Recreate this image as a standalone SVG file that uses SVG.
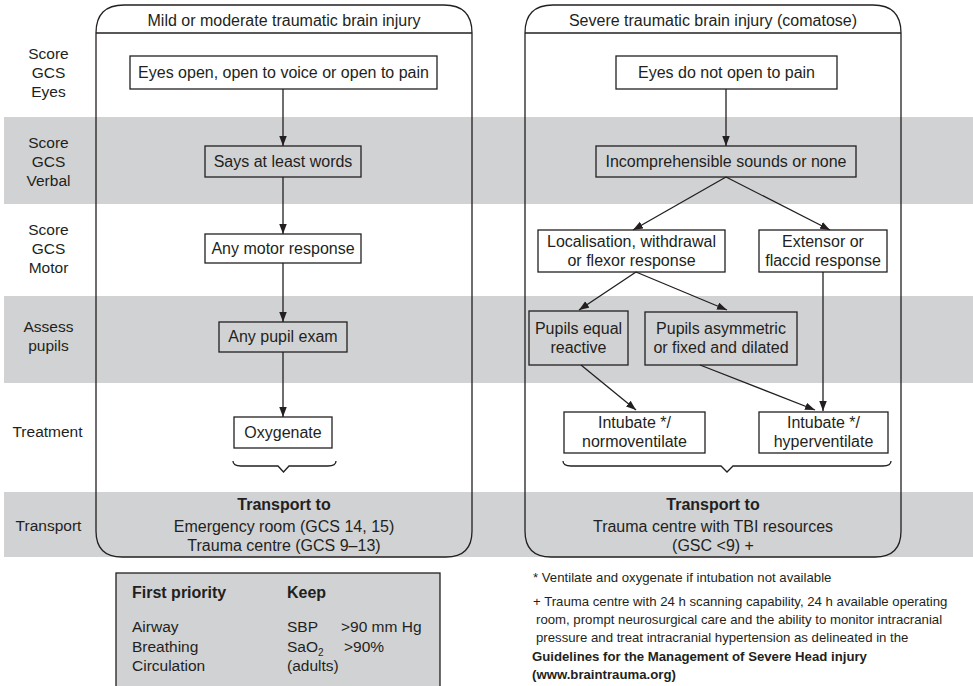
<svg xmlns="http://www.w3.org/2000/svg" width="973" height="686" viewBox="0 0 973 686">
<defs>
<style>
text{font-family:"Liberation Sans",Arial,sans-serif;font-size:16px;fill:#231f20}
.c{text-anchor:middle}
.b{font-weight:bold}
.lab{font-size:15.5px}
.pr{font-size:15.5px}
.fn{font-size:13.2px}
.band{fill:#d1d2d4}
.box{fill:#fff;stroke:#231f20;stroke-width:1.3}
.gbox{fill:#d1d2d4;stroke:#231f20;stroke-width:1.3}
.panel{fill:none;stroke:#231f20;stroke-width:1.3}
.conn{fill:none;stroke:#231f20;stroke-width:1.3}
</style>
<marker id="ah" markerUnits="userSpaceOnUse" markerWidth="11" markerHeight="8" refX="10" refY="3.75" orient="auto">
<path d="M0,0 L10,3.75 L0,7.5 z" fill="#231f20"/>
</marker>
</defs>
<rect width="973" height="686" fill="#fff"/>
<g id="bands">
<rect class="band" x="4" y="117" width="969" height="87"/>
<rect class="band" x="4" y="296" width="969" height="87"/>
<rect class="band" x="4" y="492" width="969" height="65"/>
</g>
<g id="row-labels">
<text class="c lab" x="48.5" y="59">Score</text>
<text class="c lab" x="48.5" y="78">GCS</text>
<text class="c lab" x="48.5" y="97">Eyes</text>
<text class="c lab" x="48.5" y="148">Score</text>
<text class="c lab" x="48.5" y="167">GCS</text>
<text class="c lab" x="48.5" y="186">Verbal</text>
<text class="c lab" x="48.5" y="235">Score</text>
<text class="c lab" x="48.5" y="254">GCS</text>
<text class="c lab" x="48.5" y="273">Motor</text>
<text class="c lab" x="48.5" y="332">Assess</text>
<text class="c lab" x="48.5" y="351">pupils</text>
<text class="c lab" x="47.5" y="437">Treatment</text>
<text class="c lab" x="48.5" y="531">Transport</text>
</g>
<g id="panel-mild">
<path class="panel" d="M96,33 Q96,5 124,5 L444,5 Q472,5 472,33 L472,531 Q472,557 446,557 L122,557 Q96,557 96,531 Z"/>
<line class="panel" x1="96" y1="33" x2="472" y2="33"/>
<text class="c" x="284" y="26">Mild or moderate traumatic brain injury</text>
<text class="c b" x="284" y="510">Transport to</text>
<text class="c" x="284" y="532">Emergency room (GCS 14, 15)</text>
<text class="c" x="284" y="551">Trauma centre (GCS 9–13)</text>
<path class="conn" d="M233,461 Q233,466 241,466 L278,466 L283.5,472 L289,466 L328,466 Q336,466 336,461"/>
</g>
<g id="panel-severe">
<path class="panel" d="M525,33 Q525,5 553,5 L873,5 Q901,5 901,33 L901,531 Q901,557 875,557 L551,557 Q525,557 525,531 Z"/>
<line class="panel" x1="525" y1="33" x2="901" y2="33"/>
<text class="c" x="713" y="26">Severe traumatic brain injury (comatose)</text>
<text class="c b" x="713" y="510">Transport to</text>
<text class="c" x="713" y="532">Trauma centre with TBI resources</text>
<text class="c" x="713" y="551">(GSC &lt;9) +</text>
<path class="conn" d="M563,461 Q563,466 571,466 L721,466 L727,472 L733,466 L883,466 Q891,466 891,461"/>
</g>
<g id="n-eyes-open">
<rect class="box" x="130" y="56" width="307" height="33"/>
<text class="c" x="283.5" y="78">Eyes open, open to voice or open to pain</text>
</g>
<g id="n-says-words">
<rect class="gbox" x="205" y="146" width="156" height="31"/>
<text class="c" x="283" y="167">Says at least words</text>
</g>
<g id="n-any-motor">
<rect class="box" x="205" y="234" width="156" height="29"/>
<text class="c" x="283" y="254">Any motor response</text>
</g>
<g id="n-any-pupil">
<rect class="gbox" x="219" y="322" width="128" height="30"/>
<text class="c" x="283" y="342">Any pupil exam</text>
</g>
<g id="n-oxygenate">
<rect class="box" x="234" y="417" width="98" height="31"/>
<text class="c" x="283" y="438">Oxygenate</text>
</g>
<g id="n-eyes-not">
<rect class="box" x="616" y="56" width="221" height="33"/>
<text class="c" x="726.5" y="78">Eyes do not open to pain</text>
</g>
<g id="n-incomprehensible">
<rect class="gbox" x="596" y="146" width="260" height="31"/>
<text class="c" x="726" y="167">Incomprehensible sounds or none</text>
</g>
<g id="n-localisation">
<rect class="box" x="538" y="230" width="187" height="42"/>
<text class="c" x="631.5" y="247">Localisation, withdrawal</text>
<text class="c" x="631.5" y="266">or flexor response</text>
</g>
<g id="n-extensor">
<rect class="box" x="759" y="230" width="128" height="42"/>
<text class="c" x="823" y="247">Extensor or</text>
<text class="c" x="823" y="266">flaccid response</text>
</g>
<g id="n-pupils-equal">
<rect class="gbox" x="529" y="311" width="99" height="54"/>
<text class="c" x="578.5" y="334">Pupils equal</text>
<text class="c" x="578.5" y="353">reactive</text>
</g>
<g id="n-pupils-asym">
<rect class="gbox" x="645" y="312" width="152" height="53"/>
<text class="c" x="721" y="334">Pupils asymmetric</text>
<text class="c" x="721" y="353">or fixed and dilated</text>
</g>
<g id="n-intubate-normo">
<rect class="box" x="564" y="412" width="141" height="41"/>
<text class="c" x="634.5" y="428">Intubate */</text>
<text class="c" x="634.5" y="447">normoventilate</text>
</g>
<g id="n-intubate-hyper">
<rect class="box" x="759" y="412" width="129" height="41"/>
<text class="c" x="823.5" y="428">Intubate */</text>
<text class="c" x="823.5" y="447">hyperventilate</text>
</g>
<g id="connectors">
<line class="conn" x1="283" y1="89" x2="283" y2="146" marker-end="url(#ah)"/>
<line class="conn" x1="283" y1="177" x2="283" y2="234" marker-end="url(#ah)"/>
<line class="conn" x1="283" y1="263" x2="283" y2="322" marker-end="url(#ah)"/>
<line class="conn" x1="283" y1="352" x2="283" y2="417" marker-end="url(#ah)"/>
<line class="conn" x1="726" y1="89" x2="726" y2="146" marker-end="url(#ah)"/>
<line class="conn" x1="726" y1="177" x2="633" y2="230" marker-end="url(#ah)"/>
<line class="conn" x1="726" y1="177" x2="830" y2="230" marker-end="url(#ah)"/>
<line class="conn" x1="636" y1="272" x2="579" y2="310" marker-end="url(#ah)"/>
<line class="conn" x1="636" y1="272" x2="727" y2="310" marker-end="url(#ah)"/>
<line class="conn" x1="581" y1="365" x2="636" y2="410" marker-end="url(#ah)"/>
<line class="conn" x1="700" y1="365" x2="815" y2="410" marker-end="url(#ah)"/>
<line class="conn" x1="823" y1="272" x2="823" y2="411" marker-end="url(#ah)"/>
</g>
<g id="priority-box">
<rect class="gbox" x="116" y="573" width="324" height="120"/>
<text class="b" x="132" y="598">First priority</text>
<text class="b" x="287" y="598">Keep</text>
<text class="pr" x="132" y="632">Airway</text>
<text class="pr" x="132" y="652">Breathing</text>
<text class="pr" x="132" y="671">Circulation</text>
<text class="pr" x="287" y="632">SBP</text>
<text class="pr" x="341" y="632">&gt;90 mm Hg</text>
<text class="pr" x="287" y="652">SaO<tspan font-size="10" dy="4">2</tspan></text>
<text class="pr" x="344" y="652">&gt;90%</text>
<text class="pr" x="287" y="671">(adults)</text>
</g>
<g id="footnotes">
<text class="fn" x="533" y="582">* Ventilate and oxygenate if intubation not available</text>
<text class="fn" x="533" y="606">+ Trauma centre with 24 h scanning capability, 24 h available operating</text>
<text class="fn" x="536" y="624">room, prompt neurosurgical care and the ability to monitor intracranial</text>
<text class="fn" x="536" y="642">pressure and treat intracranial hypertension as delineated in the</text>
<text class="fn b" x="532" y="661">Guidelines for the Management of Severe Head injury</text>
<text class="fn b" x="532" y="679">(www.braintrauma.org)</text>
</g>
</svg>
